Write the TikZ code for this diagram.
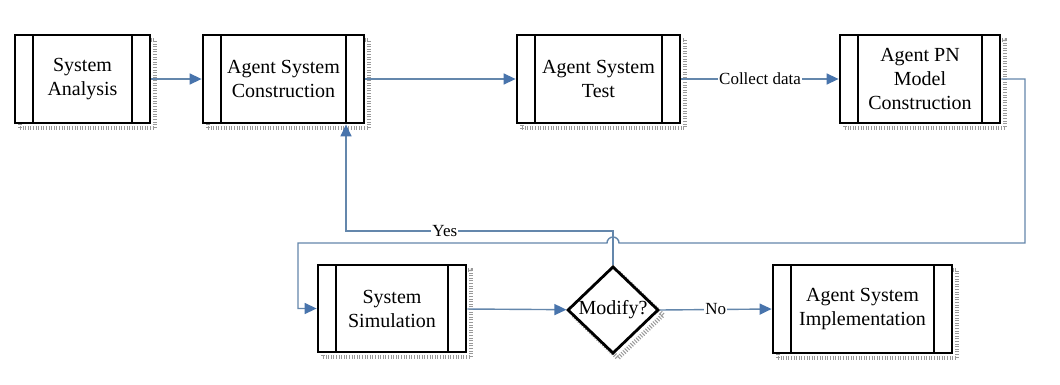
\documentclass[tikz,border=0pt]{standalone}
\usepackage{fontspec}
\setmainfont{Liberation Serif}
\usetikzlibrary{arrows.meta,shapes.geometric}
\definecolor{flowline}{RGB}{100,135,172}
\definecolor{tipblue}{RGB}{72,116,172}
\begin{document}
\begin{tikzpicture}[x=1pt,y=1pt,
  dotshadow/.style={preaction={draw=gray!80, line width=4.5pt,
      dash pattern=on 1pt off 1.6pt,
      transform canvas={shift={(5pt,-5pt)}}}},
  process/.style={draw, line width=2.8pt, fill=white, minimum height=88pt,
      align=center, inner sep=0pt, font=\fontsize{20}{24}\selectfont, dotshadow,
      path picture={
        \draw[line width=2.8pt]
          ([xshift=18pt]path picture bounding box.north west) --
          ([xshift=18pt]path picture bounding box.south west)
          ([xshift=-18pt]path picture bounding box.north east) --
          ([xshift=-18pt]path picture bounding box.south east);
      }},
  decision/.style={diamond, draw, line width=2.8pt, fill=white, inner sep=0pt,
      minimum width=91pt, minimum height=86pt, font=\fontsize{20}{24}\selectfont,
      dotshadow},
  flow/.style={draw=flowline, line width=1.4pt,
      -{Triangle[length=12pt,width=11pt,color=tipblue]}},
  lbl/.style={fill=white, inner sep=1pt, font=\fontsize{17}{19}\selectfont},
]
\useasboundingbox[fill=white] (0,0) rectangle (1060,384);

% top row
\node[process, minimum width=135pt] (b1) at (82.5,305) {System\\Analysis};
\node[process, minimum width=161pt] (b2) at (283.5,305) {Agent System\\Construction};
\node[process, minimum width=163pt] (b3) at (598.5,305) {Agent System\\Test};
\node[process, minimum width=160pt] (b4) at (920,305) {Agent PN\\Model\\Construction};

% bottom row
\node[process, minimum width=148pt, minimum height=87pt] (sim) at (392,75.5) {System\\Simulation};
\node[decision] (dia) at (613,74) {Modify?};
\node[process, minimum width=179pt] (impl) at (862.5,75) {Agent System\\Implementation};

% corner points of the feedback routes
\coordinate (yk) at (346,153);
\coordinate (lr) at (1025,141);
\coordinate (ll) at (298,141);

% connectors
\draw[flow] (b1) -- (b2);
\draw[flow] (b2) -- (b3);
\draw[flow] (b3) -- node[lbl] {Collect data} (b4);
\draw[flow] (b4.east) -| (lr) -- ([xshift=6pt]dia.north |- lr)
  arc[start angle=0, end angle=180, radius=6pt] -- (ll) |- (sim.west);
\draw[flow] (sim) -- (dia);
\draw[flow] (dia.north) |- node[lbl, pos=0.815] {Yes} (yk) -- (yk |- b2.south);
\draw[flow] (dia.east) -- node[lbl] {No} (impl.west);
\end{tikzpicture}
\end{document}
